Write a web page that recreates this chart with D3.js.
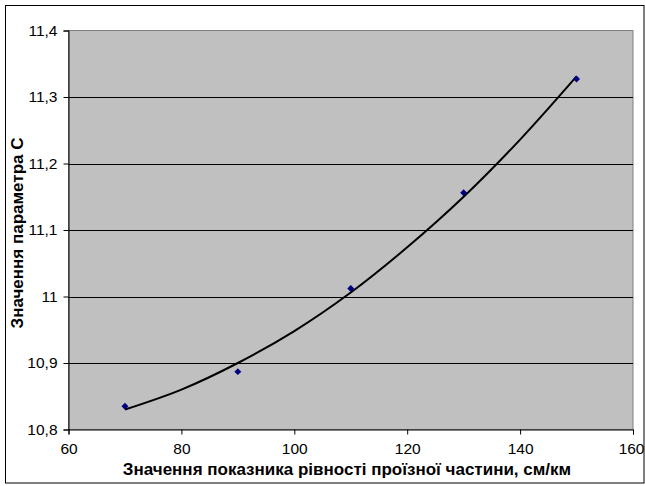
<!DOCTYPE html>
<html><head><meta charset="utf-8">
<script src="https://cdn.jsdelivr.net/npm/d3@7"></script>
<style>body{margin:0;background:#fff;}svg{display:block;font-family:Arial,"Liberation Sans",sans-serif;}</style>
</head><body><svg id="c" width="645" height="486"></svg>
<script>
const xValues = [70, 90, 110, 130, 150];
const yValues = [10.835, 10.887, 11.012, 11.156, 11.327];
const trendX = [70, 80, 90, 100, 110, 120, 130, 140, 150];
const trendY = [10.830, 10.860, 10.900, 10.948, 11.006, 11.074, 11.150, 11.236, 11.331];
const xTicks = [60, 80, 100, 120, 140, 160];
const yTicks = [10.8, 10.9, 11.0, 11.1, 11.2, 11.3, 11.4];
const xTitle = "Значення показника рівності проїзної частини, см/км";
const yTitle = "Значення параметра С";

const svg = d3.select("#c");
const L = 68.5, R = 633, T = 30.5, B = 429.5;
const x = d3.scaleLinear().domain([60,160]).range([L,R]);
const y = d3.scaleLinear().domain([10.8,11.4]).range([B,T]);
const fmt = d => (Math.round(d*10)/10).toString().replace(".", ",");

svg.append("rect").attr("x",5.5).attr("y",5.5).attr("width",638.5).attr("height",477.5)
  .attr("fill","#fff").attr("stroke","#000").attr("stroke-width",1);

svg.append("rect").attr("x",L).attr("y",T).attr("width",R-L).attr("height",B-T)
  .attr("fill","#c0c0c0").attr("stroke","#808080").attr("stroke-width",1);

// gridlines
svg.append("g").selectAll("line").data(yTicks.slice(1,-1)).join("line")
  .attr("x1",L).attr("x2",R).attr("y1",d=>Math.round(y(d))+0.5).attr("y2",d=>Math.round(y(d))+0.5)
  .attr("stroke","#000").attr("stroke-width",1);

// axes
const xAxis = d3.axisBottom(x).tickValues(xTicks).tickSize(5).tickPadding(8).tickFormat(d=>d);
const gx = svg.append("g").attr("transform",`translate(0,${B})`).call(xAxis);
const yAxis = d3.axisLeft(y).tickValues(yTicks).tickSize(5).tickPadding(6).tickFormat(fmt);
const gy = svg.append("g").attr("transform",`translate(${L},0)`).call(yAxis);
[gx,gy].forEach(g=>{
  g.select(".domain").attr("stroke","#000");
  g.selectAll(".tick line").attr("stroke","#000");
  g.selectAll("text").attr("fill","#000").style("font-size","15.5px").style("font-family","Arial,'Liberation Sans',sans-serif");
});
gx.selectAll(".tick text").filter(d=>d===160).attr("text-anchor","end").attr("dx","11");

// trend line
const line = d3.line().x((d,i)=>x(trendX[i])).y(d=>y(d)).curve(d3.curveCatmullRom);
svg.append("path").datum(trendY).attr("d",line).attr("fill","none").attr("stroke","#000").attr("stroke-width",2);

// markers
const sym = d3.symbol().type(d3.symbolSquare).size(24);
svg.append("g").selectAll("path").data(yValues).join("path")
  .attr("transform",(d,i)=>`translate(${x(xValues[i])},${y(d)}) rotate(45)`)
  .attr("d",sym).attr("fill","#000080");

// titles
svg.append("text").attr("x",347).attr("y",475).attr("text-anchor","middle")
  .style("font-size","17px").style("font-weight","bold").text(xTitle);
svg.append("text").attr("transform","translate(23,233) rotate(-90)").attr("text-anchor","middle")
  .style("font-size","17px").style("font-weight","bold").text(yTitle);
</script></body></html>
